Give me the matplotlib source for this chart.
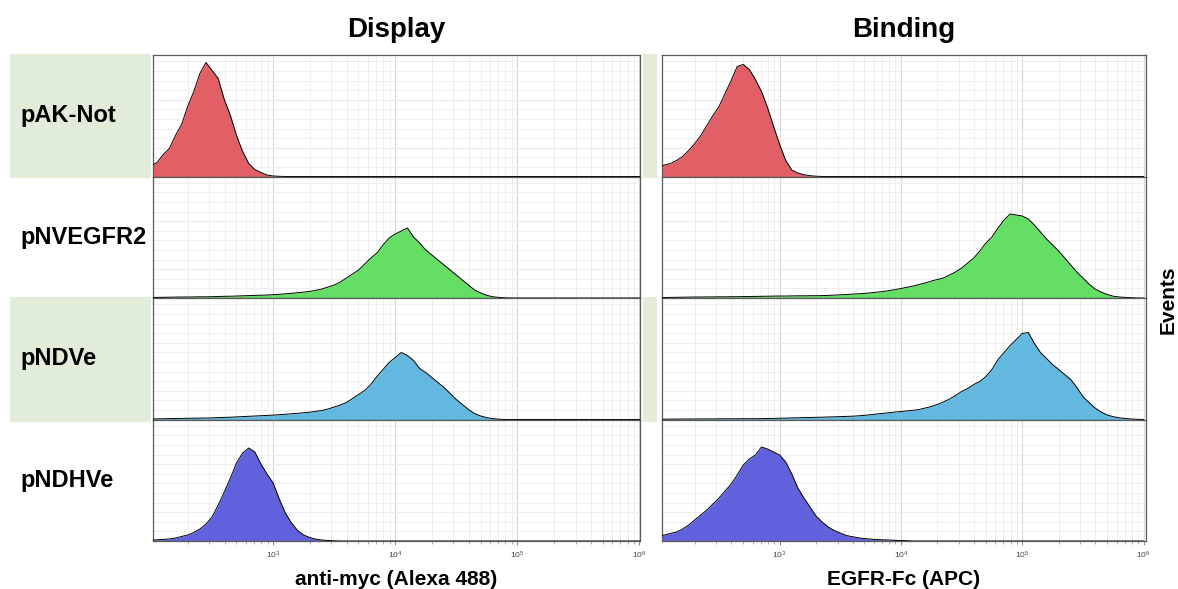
import numpy as np
import matplotlib
matplotlib.use('Agg')
import matplotlib.pyplot as plt
from matplotlib.patches import Rectangle
from matplotlib.ticker import LogLocator, LogFormatterMathtext, NullFormatter, FixedLocator

plt.rcParams['font.family'] = ['Liberation Sans', 'DejaVu Sans']

# ── Datos: histogramas (eventos por canal, canales cada 0.05 décadas desde 10^2) ──
LOG_START = 2.0
LOG_STEP = 0.05
N_BINS = 81

muestras = ['pAK-Not', 'pNVEGFR2', 'pNDVe', 'pNDHVe']
colores = ['#E15F65', '#65DE65', '#62B8DF', '#6161DD']

display_pak = [11, 14, 22, 28, 41, 52, 70, 85, 103, 114, 106, 98, 77, 61, 41,
               25, 13, 7, 4, 1.5, 0.5, 0.2]
display_nvegfr2 = [0.5, 0.6, 0.7, 0.8, 0.9, 1.0, 1.0, 1.1, 1.2, 1.2,
                   1.3, 1.5, 1.7, 1.8, 2.0, 2.2, 2.4, 2.6, 2.8, 3.0,
                   3.3, 3.7, 4.2, 4.7, 5.3, 5.9, 6.6, 7.7, 9, 11,
                   13, 16, 20, 24, 28, 34, 40, 45, 53, 60,
                   64, 67, 70, 61, 55, 48, 43, 38, 33, 28,
                   23, 18, 13, 8, 5, 2.7, 1.2, 0.6, 0.2]
display_ndve = [0.5, 0.6, 0.7, 0.9, 1.0, 1.1, 1.2, 1.3, 1.4, 1.5,
                1.6, 1.9, 2.1, 2.3, 2.6, 2.9, 3.2, 3.5, 3.8, 4.1,
                4.4, 4.8, 5.2, 5.7, 6.2, 6.8, 7.3, 8.2, 9, 10.5,
                12.5, 14.5, 17, 21, 25, 29, 35, 43, 50, 57,
                62, 67, 64, 59, 51, 47, 42, 37, 32, 26,
                20, 15, 10, 6, 3.5, 1.9, 0.9, 0.3]
display_ndhve = [0.8, 1.2, 1.6, 2.0, 3.0, 4.5, 6.0, 8.5, 12, 17,
                 24, 36, 49, 63, 78, 88, 93, 89, 77, 67,
                 58, 42, 28, 18, 10.5, 6, 3.5, 1.8, 1.0, 0.5, 0.2]

binding_pak = [10, 11.5, 13, 16, 20, 26, 33, 41, 51, 61,
               70, 83, 96, 110, 112, 107, 97, 85, 69, 50,
               32, 16, 6.5, 3.5, 1.8, 0.8, 0.3]
binding_nvegfr2 = [0.4, 0.5, 0.6, 0.7, 0.8, 0.9, 1.0, 1.0, 1.1, 1.1,
                   1.2, 1.2, 1.3, 1.3, 1.4, 1.5, 1.6, 1.7, 1.8, 1.9,
                   2.0, 2.0, 2.1, 2.2, 2.2, 2.3, 2.3, 2.4, 2.6, 2.9,
                   3.2, 3.5, 3.9, 4.2, 4.6, 5.2, 5.8, 6.5, 7.3, 8.4,
                   9.5, 10.7, 12, 13.5, 15, 17, 18.5, 20, 23, 26,
                   30, 35, 40, 47, 55, 61, 70, 78, 84, 83,
                   82, 79, 73, 66, 59, 53, 47, 40, 33, 26,
                   20, 14, 9, 6, 3.5, 1.8, 1.0, 0.6, 0.3]
binding_ndve = [0.3, 0.3, 0.4, 0.4, 0.5, 0.5, 0.5, 0.6, 0.6, 0.6,
                0.7, 0.7, 0.7, 0.7, 0.8, 0.8, 0.8, 0.9, 1.0, 1.1,
                1.3, 1.4, 1.6, 1.7, 1.9, 2.0, 2.2, 2.3, 2.5, 2.7,
                2.9, 3.1, 3.3, 3.7, 4.2, 4.8, 5.5, 6.1, 6.8, 7.4,
                8, 8.6, 9.2, 10, 11.5, 13, 15, 17.5, 20.5, 24,
                28, 31, 35, 38, 43, 50, 60, 67, 74, 80,
                86, 87, 76, 67, 61, 55, 50, 45, 40, 32,
                23, 17, 11.5, 7.5, 4.5, 2.8, 1.7, 1.0, 0.5, 0.2]
binding_ndhve = [5, 6, 7.5, 9, 12, 16, 21, 26, 31, 37,
                 43, 50, 57, 66, 76, 82, 86, 94, 92, 89,
                 86, 79, 67, 53, 43, 34, 25, 19, 14, 10.5,
                 8, 5.5, 4.3, 3.2, 2.4, 1.9, 1.5, 1.2, 1.0, 0.7, 0.5, 0.3]

paneles = {
    'Display': [display_pak, display_nvegfr2, display_ndve, display_ndhve],
    'Binding': [binding_pak, binding_nvegfr2, binding_ndve, binding_ndhve],
}
xlabels = {'Display': 'anti-myc (Alexa 488)', 'Binding': 'EGFR-Fc (APC)'}
xlims = {'Display': (10 ** 2.016, 10 ** 6.005), 'Binding': (10 ** 2.03, 10 ** 6.02)}

# ── Geometría (px de la figura) ─────────────────────────────────────────────────
W, H = 1178, 589
col_x = {'Display': (153, 640), 'Binding': (662, 1146)}
row_top, row_h = 55, 121.5

canales = 10 ** (LOG_START + LOG_STEP * np.arange(N_BINS))

fig = plt.figure(figsize=(W / 100, H / 100), dpi=100)

# Bandas verdes detrás de las filas 1 y 3
for i in (0, 2):
    y0 = row_top + i * row_h - 1
    y1 = row_top + (i + 1) * row_h + 2
    for bx0, bx1 in ((10, 151), (643, 657)):
        fig.patches.append(Rectangle((bx0 / W, 1 - y1 / H), (bx1 - bx0) / W,
                                     (y1 - y0) / H, transform=fig.transFigure,
                                     facecolor='#E1EDD8', edgecolor='none', zorder=0))

for nombre, series in paneles.items():
    x0, x1 = col_x[nombre]
    for i, (vals, color) in enumerate(zip(series, colores)):
        top = row_top + i * row_h
        ax = fig.add_axes([x0 / W, 1 - (top + row_h) / H, (x1 - x0) / W, row_h / H])
        y = np.zeros(N_BINS)
        y[:len(vals)] = vals
        ax.fill_between(canales, y, 0, color=color, lw=0, zorder=2)
        ax.plot(canales, y, color='black', lw=0.7, zorder=3)
        ax.set_xscale('log')
        ax.set_xlim(*xlims[nombre])
        ax.set_ylim(0, row_h)
        ax.yaxis.set_major_locator(FixedLocator([29, 77]))
        ax.yaxis.set_minor_locator(FixedLocator(np.arange(9.6, row_h, 9.6)))
        ax.tick_params(axis='y', which='both', left=False, labelleft=False)
        ax.xaxis.set_major_locator(LogLocator(base=10))
        ax.xaxis.set_minor_locator(LogLocator(base=10, subs=np.arange(2, 10)))
        ax.xaxis.set_minor_formatter(NullFormatter())
        ax.grid(True, which='major', color='#d8d8d8', lw=0.8, zorder=0)
        ax.grid(True, which='minor', color='#eeeeee', lw=0.7, zorder=0)
        ax.set_axisbelow(True)
        for s in ax.spines.values():
            s.set_color('#5a5a5a')
            s.set_linewidth(0.9)
        if i < 3:
            ax.tick_params(axis='x', which='both', bottom=False, labelbottom=False)
        else:
            ax.xaxis.set_major_formatter(LogFormatterMathtext())
            ax.tick_params(axis='x', which='major', length=3, width=0.6,
                           color='#777777', labelsize=6, labelcolor='#444444', pad=3)
            ax.tick_params(axis='x', which='minor', length=2, width=0.5, color='#888888')
            ax.set_xlabel(xlabels[nombre], fontsize=15, fontweight='bold', labelpad=7)
        if i == 0:
            ax.set_title(nombre, fontsize=20, fontweight='bold', pad=13)

# Etiquetas de muestra
for i, m in enumerate(muestras):
    yc = row_top + (i + 0.5) * row_h
    fig.text(20 / W, 1 - yc / H, m, fontsize=17, fontweight='bold', va='center', ha='left')

fig.text(1168 / W, 1 - 300 / H, 'Events', fontsize=15, fontweight='bold',
         rotation=90, va='center', ha='center')

fig.savefig('out.png', dpi=100)
